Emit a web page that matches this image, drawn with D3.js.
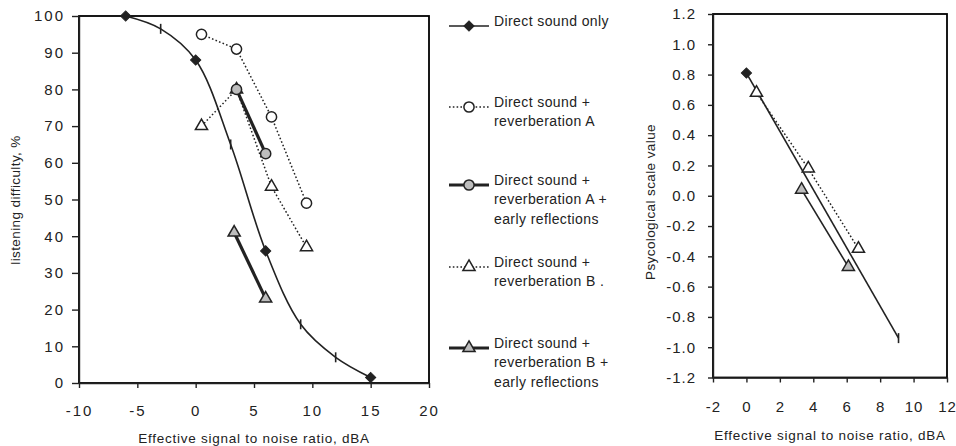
<!DOCTYPE HTML>
<html>
<head>
    <meta charset="utf-8">
    <script type="text/javascript" src="https://cdn.jsdelivr.net/npm/d3@7"></script>
    <style>
        svg text { font-family: "Liberation Sans", Arial, sans-serif; fill: #222; }
        .axis path, .axis line { stroke: #222; stroke-width: 1.4; }
    </style>
</head>
<body style="margin:0">
    <div id="chart"></div>
    <script>
        // ---- data ----
        // left panel: listening difficulty, %
        var directX = [-6, -3, 0, 3, 6, 9, 12, 15];
        var directY = [100, 96.5, 88, 65, 36, 16, 7, 1.5];
        var directMeasured = [-6, 0, 6, 15];   // the others are points of the fitted curve

        var revAX = [0.5, 3.5, 6.5, 9.5];
        var revAY = [95, 91, 72.5, 49];

        var revAEarlyX = [3.5, 6];
        var revAEarlyY = [80, 62.5];

        var revBX = [0.5, 3.5, 6.5, 9.5];
        var revBY = [70, 80, 53.5, 37];

        var revBEarlyX = [3.3, 6];
        var revBEarlyY = [41, 23];

        // right panel: psycological scale value
        var psyDirectX = [0, 9.1];
        var psyDirectY = [0.81, -0.94];
        var psyDirectMeasured = [0];

        var psyRevBX = [0.6, 3.7, 6.7];
        var psyRevBY = [0.68, 0.18, -0.35];

        var psyRevBEarlyX = [3.3, 6.1];
        var psyRevBEarlyY = [0.04, -0.47];

        var leftXTicks = [-10, -5, 0, 5, 10, 15, 20];
        var leftYTicks = [0, 10, 20, 30, 40, 50, 60, 70, 80, 90, 100];
        var rightXTicks = [-2, 0, 2, 4, 6, 8, 10, 12];
        var rightYTicks = [-1.2, -1.0, -0.8, -0.6, -0.4, -0.2, 0, 0.2, 0.4, 0.6, 0.8, 1.0, 1.2];

        var legendLabels = [
            ["Direct sound only"],
            ["Direct sound +", "reverberation A"],
            ["Direct sound +", "reverberation A +", "early reflections"],
            ["Direct sound +", "reverberation B  ."],
            ["Direct sound +", "reverberation B +", "early reflections"]
        ];

        var xTitle = "Effective signal to noise ratio, dBA";

        // ---- drawing ----
        var svg = d3.select("#chart")
            .append("svg")
            .attr("width", 956)
            .attr("height", 446);

        function zip(xs, ys) {
            return xs.map(function (x, i) { return [x, ys[i]]; });
        }

        // plain hyphen for negative numbers, like the original
        function hyphen(f) {
            return function (d) { return f(d).replace("\u2212", "-"); };
        }

        // marker path generators
        var marks = {
            diamond: d3.symbol().type(d3.symbolSquare).size(52),
            circle: d3.symbol().type(d3.symbolCircle).size(82),
            triangle: d3.symbol().type(d3.symbolTriangle).size(64)
        };

        var styles = {
            direct: { width: 1.6, dash: null, mark: "diamond", fill: "#222" },
            revA: { width: 1.5, dash: "1.6,2.2", mark: "circle", fill: "#fff" },
            revAEarly: { width: 3.2, dash: null, mark: "circle", fill: "#bdbdbd" },
            revB: { width: 1.5, dash: "1.6,2.2", mark: "triangle", fill: "#fff" },
            revBEarly: { width: 3.2, dash: null, mark: "triangle", fill: "#bdbdbd" }
        };

        function drawMark(g, kind, fill, px, py) {
            if (kind == "bar") {
                g.append("line")
                    .attr("x1", px).attr("x2", px)
                    .attr("y1", py - 5).attr("y2", py + 5)
                    .attr("stroke", "#222")
                    .attr("stroke-width", 1.6);
                return;
            }
            var t = "translate(" + px + "," + py + ")";
            if (kind == "diamond") t += " rotate(45)";
            g.append("path")
                .attr("d", marks[kind]())
                .attr("transform", t)
                .attr("fill", fill)
                .attr("stroke", "#222")
                .attr("stroke-width", kind == "diamond" ? 1 : 1.5);
        }

        function drawSeries(g, x, y, pts, st, curve, measured) {
            var line = d3.line()
                .x(function (d) { return x(d[0]); })
                .y(function (d) { return y(d[1]); })
                .curve(curve || d3.curveLinear);
            var path = g.append("path")
                .datum(pts)
                .attr("d", line)
                .attr("fill", "none")
                .attr("stroke", "#222")
                .attr("stroke-width", st.width);
            if (st.dash) path.attr("stroke-dasharray", st.dash);

            pts.forEach(function (d) {
                var kind = st.mark;
                if (measured && measured.indexOf(d[0]) < 0) kind = "bar";
                drawMark(g, kind, st.fill, x(d[0]), y(d[1]));
            });
        }

        function drawPanel(box, xDom, yDom, xTicks, yTicks, yFmt, opts) {
            var x = d3.scaleLinear().domain(xDom).range([box.left, box.right]);
            var y = d3.scaleLinear().domain(yDom).range([box.bottom, box.top]);

            var g = svg.append("g");

            // plot frame
            g.append("rect")
                .attr("x", box.left)
                .attr("y", box.top)
                .attr("width", box.right - box.left)
                .attr("height", box.bottom - box.top)
                .attr("fill", "none")
                .attr("stroke", "black")
                .attr("stroke-width", 1.8);

            var gx = g.append("g")
                .attr("class", "axis")
                .attr("transform", "translate(0," + box.bottom + ")")
                .call(d3.axisBottom(x).tickValues(xTicks).tickFormat(hyphen(d3.format("d")))
                    .tickSize(5).tickPadding(opts.xPad).tickSizeOuter(0));
            gx.selectAll("text")
                .style("font-size", "15px")
                .style("letter-spacing", opts.spacing + "px");

            var gy = g.append("g")
                .attr("class", "axis")
                .attr("transform", "translate(" + box.left + ",0)")
                .call(d3.axisLeft(y).tickValues(yTicks).tickFormat(hyphen(yFmt))
                    .tickSize(opts.yTick).tickPadding(opts.yPad).tickSizeOuter(0));
            gy.selectAll("text")
                .style("font-size", "15px")
                .style("letter-spacing", opts.spacing + "px");

            g.append("text")
                .attr("x", (box.left + box.right) / 2)
                .attr("y", opts.xTitleY)
                .attr("text-anchor", "middle")
                .style("font-size", "13.5px")
                .style("letter-spacing", "0.75px")
                .text(xTitle);

            g.append("text")
                .attr("transform", "translate(" + opts.yTitleX + "," + opts.yTitleY + ") rotate(-90)")
                .attr("text-anchor", "middle")
                .style("font-size", "13.5px")
                .style("letter-spacing", "0.4px")
                .text(opts.yTitle);

            return { g: g, x: x, y: y };
        }

        // left panel
        var left = drawPanel(
            { left: 79, right: 429, top: 16, bottom: 383 },
            [-10, 20], [0, 100], leftXTicks, leftYTicks, d3.format("d"),
            { xPad: 17, yTick: 7, yPad: 7, spacing: 2, xTitleY: 443,
              yTitleX: 20, yTitleY: 200, yTitle: "listening difficulty, %" });

        drawSeries(left.g, left.x, left.y, zip(revAX, revAY), styles.revA);
        drawSeries(left.g, left.x, left.y, zip(revBX, revBY), styles.revB);
        drawSeries(left.g, left.x, left.y, zip(revAEarlyX, revAEarlyY), styles.revAEarly);
        drawSeries(left.g, left.x, left.y, zip(revBEarlyX, revBEarlyY), styles.revBEarly);
        drawSeries(left.g, left.x, left.y, zip(directX, directY), styles.direct,
            d3.curveCatmullRom.alpha(0.5), directMeasured);

        // right panel
        var right = drawPanel(
            { left: 713, right: 947, top: 14, bottom: 377.5 },
            [-2, 12], [-1.2, 1.2], rightXTicks, rightYTicks, d3.format(".1f"),
            { xPad: 19, yTick: 5, yPad: 12, spacing: 1, xTitleY: 440,
              yTitleX: 655, yTitleY: 202, yTitle: "Psycological scale value" });

        drawSeries(right.g, right.x, right.y, zip(psyDirectX, psyDirectY), styles.direct,
            null, psyDirectMeasured);
        drawSeries(right.g, right.x, right.y, zip(psyRevBX, psyRevBY), styles.revB);
        drawSeries(right.g, right.x, right.y, zip(psyRevBEarlyX, psyRevBEarlyY),
            { width: 1.6, dash: null, mark: "triangle", fill: "#bdbdbd" });

        // legend
        var legendKeys = ["direct", "revA", "revAEarly", "revB", "revBEarly"];
        var legendY = [26, 107, 185, 267, 348];
        var legend = svg.append("g");

        legendKeys.forEach(function (k, i) {
            var st = styles[k];
            var ly = legendY[i];
            var seg = legend.append("line")
                .attr("x1", 449).attr("x2", 489)
                .attr("y1", ly).attr("y2", ly)
                .attr("stroke", "#222")
                .attr("stroke-width", st.width);
            if (st.dash) seg.attr("stroke-dasharray", st.dash);
            drawMark(legend, st.mark, st.fill, 469, ly);

            legend.append("text")
                .attr("x", 494)
                .attr("y", ly)
                .attr("dy", "0.35em")
                .style("font-size", "14px")
                .style("letter-spacing", "0.4px")
                .selectAll("tspan")
                .data(legendLabels[i])
                .enter()
                .append("tspan")
                .attr("x", 494)
                .attr("dy", function (d, j) { return j == 0 ? 0 : 19.4; })
                .text(function (d) { return d; });
        });
    </script>
</body>
</html>
